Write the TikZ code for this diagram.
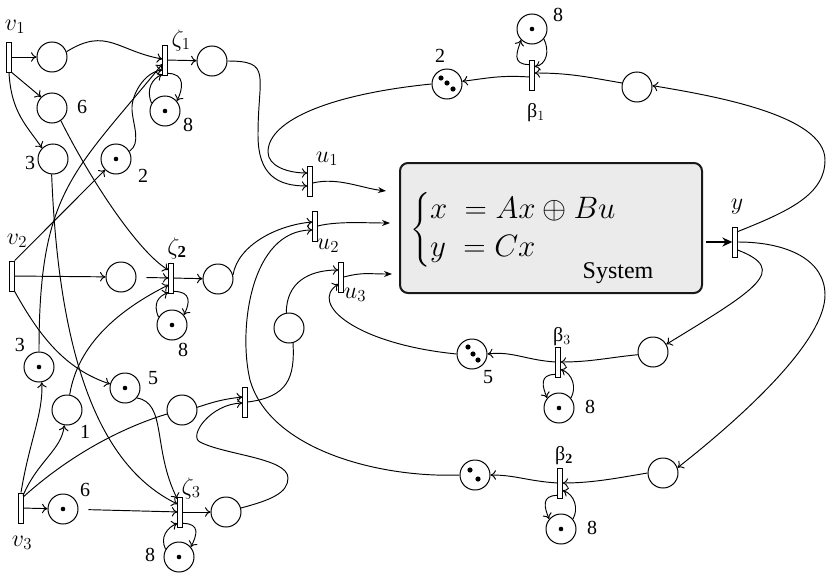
\RequirePackage{fix-cm}
\documentclass[tikz,border=0pt]{standalone}
\usepackage{amsmath}
\usepackage{fontspec}
\setmainfont{Liberation Serif}
\usetikzlibrary{arrows.meta,calc}
\begin{document}
\begin{tikzpicture}[x=1pt,y=-1pt,
  tr/.style={rectangle,draw,fill=white,minimum width=4.5pt,minimum height=30pt,inner sep=0pt,line width=0.8pt},
  pl/.style={circle,draw,minimum size=30pt,inner sep=0pt,line width=1pt},
  lab/.style={inner sep=0pt,font=\fontsize{20}{24}\selectfont},
  mlab/.style={inner sep=0pt,font=\fontsize{24}{28}\selectfont},
  arr/.style={-{To[length=5.5pt,width=9.5pt]},line width=0.95pt},
  ln/.style={line width=0.95pt},
  mid/.style={-{Stealth[length=8pt,width=6pt]},line width=0.95pt},
  big/.style={-{Stealth[length=10pt,width=9pt]},line width=2pt},
]
\useasboundingbox (0,0) rectangle (828,573);

% system box
\node[draw=black!90,line width=2pt,fill=black!8,rounded corners=8pt,minimum width=302pt,minimum height=130pt,inner sep=0pt] (sys) at (551,228) {};
\node[inner sep=0pt,anchor=west,font=\fontsize{31}{32}\selectfont] (eq) at (410,230) {$\begin{cases} x \;= Ax\oplus Bu\\ y \;= Cx\end{cases}$};
\node[inner sep=0pt,font=\fontsize{24}{28}\selectfont] (sysl) at (618,273) {System};

% transitions
\node[tr] (v1) at (9,57) {};
\node[tr] (v2) at (12,276) {};
\node[tr] (v3) at (21,508) {};
\node[tr] (z1) at (165,60) {};
\node[tr] (z2) at (171,278) {};
\node[tr] (z3) at (180,512) {};
\node[tr] (t4) at (245,402) {};
\node[tr] (u1) at (310,181) {};
\node[tr] (u2) at (315,226) {};
\node[tr] (u3) at (341,277) {};
\node[tr] (yT) at (735,242) {};
\node[tr] (b1) at (532,75) {};
\node[tr] (b3) at (558,362) {};
\node[tr] (b2) at (560,483) {};

% places
\node[pl] (p1) at (52,57) {};
\node[pl] (p2) at (52,108) {};
\node[pl] (p3) at (53,159) {};
\node[pl] (p4) at (116,159) {};
\node[pl] (s1) at (165,111) {};
\node[pl] (q1) at (212,61) {};
\node[pl] (p5) at (121,277) {};
\node[pl] (q2) at (218,279) {};
\node[pl] (s2) at (172,325) {};
\node[pl] (p6) at (39,367) {};
\node[pl] (p7) at (125,388) {};
\node[pl] (p8) at (67,410) {};
\node[pl] (p9) at (182,410) {};
\node[pl] (p10) at (63,509) {};
\node[pl] (q3) at (226,512) {};
\node[pl] (s3) at (179,557) {};
\node[pl] (r1) at (289,328) {};
\node[pl] (sb1) at (532,29) {};
\node[pl] (g1) at (447,84) {};
\node[pl] (e1) at (637,87) {};
\node[pl] (e3) at (653,352) {};
\node[pl] (g3) at (472,354) {};
\node[pl] (sb3) at (559,408) {};
\node[pl] (e2) at (663,473) {};
\node[pl] (g2) at (475,475) {};
\node[pl] (sb2) at (561,529) {};

% tokens
\foreach \p in {p4,s1,s2,p6,p7,p10,s3,sb1,sb3,sb2}{\fill (\p) circle[radius=2.3pt];}
\fill ($(g1)+(-6,-6)$) circle[radius=2.6pt];
\fill ($(g1)+(0,-1)$) circle[radius=2.6pt];
\fill ($(g1)+(6,5)$) circle[radius=2.6pt];
\fill ($(g3)+(-4,-7)$) circle[radius=2.6pt];
\fill ($(g3)+(1,0)$) circle[radius=2.6pt];
\fill ($(g3)+(6,6)$) circle[radius=2.6pt];
\fill ($(g2)+(-5,-5)$) circle[radius=2.6pt];
\fill ($(g2)+(3,4)$) circle[radius=2.6pt];

% labels
\node[mlab] (lv1) at (15,27) {$v_1$};
\node[mlab] (lv2) at (17,241) {$v_2$};
\node[mlab] (lv3) at (22,543) {$v_3$};
\node[mlab] (lz1) at (181,40) {$\zeta_1$};
\node[mlab] (lz2) at (177,248) {$\zeta_{\mathbf{2}}$};
\node[mlab] (lz3) at (191,488) {$\zeta_3$};
\node[mlab] (lu1) at (327,159) {$u_1$};
\node[mlab] (lu2) at (328,246) {$u_2$};
\node[mlab] (lu3) at (355,295) {$u_3$};
\node[mlab] (ly) at (737,207) {$y$};
\node[lab] (lb1) at (536,113) {β$_1$};
\node[lab] (lb3) at (562,337) {β$_3$};
\node[lab] (lb2) at (564,456) {β$_{\mathbf{2}}$};
\node[lab] (n6a) at (82,107) {6};
\node[lab] (n3a) at (30,163) {3};
\node[lab] (n2a) at (143,176) {2};
\node[lab] (n8a) at (188,125) {8};
\node[lab] (n8b) at (183,350) {8};
\node[lab] (n3b) at (20,345) {3};
\node[lab] (n5a) at (153,378) {5};
\node[lab] (n1) at (85,432) {1};
\node[lab] (n6b) at (85,490) {6};
\node[lab] (n8c) at (150,555) {8};
\node[lab] (n2b) at (440,56) {2};
\node[lab] (n8d) at (558,15) {8};
\node[lab] (n5b) at (488,377) {5};
\node[lab] (n8e) at (590,407) {8};
\node[lab] (n8f) at (592,528) {8};

% v1 block
\draw[arr] (v1) -- (p1);
\draw[arr] (v1.south east) -- (p2.135);
\draw[arr] (v1.south) .. controls +(2,40) and +(-15,-22) .. (p3.135);
\draw[arr] (p1.20) .. controls +(40,-25) and +(-45,-8) .. ($(z1.west)+(0,-1)$);
\draw[arr] (p6.north) .. controls +(0,-160) and +(-90,110) .. ($(z1.west)+(0,4)$);
\draw[arr] (p4.30) .. controls +(12,-8) and +(1,15) .. (132,110) .. controls +(-1,-15) and +(-18,2) .. ($(z1.west)+(0,10)$);
\draw[arr] (s1.150) .. controls +(-6,-14) and +(-10,4) .. ($(z1.south west)+(0,-1)$);
\draw[arr] ($(z1.south east)+(0,-2)$) .. controls +(18,0) and +(6,-12) .. (s1.40);
\draw[arr] (z1) -- (q1);

% v2 block
\draw[arr] (v2.north east) -- (p4.225);
\draw[arr] (v2) -- (p5);
\draw[arr] (v2.south east) .. controls +(25,45) and +(-45,-15) .. (p7.165);
\draw[arr] (p2.-55) .. controls +(30,60) and +(-30,-18) .. ($(z2.west)+(0,-8)$);
\draw[arr,shorten <=10pt] (p5) -- (z2);
\draw[arr] (p8.80) .. controls +(8,-50) and +(-50,25) .. ($(z2.west)+(0,7)$);
\draw[arr] (s2.150) .. controls +(-6,-14) and +(-10,4) .. ($(z2.south west)+(0,-1)$);
\draw[arr] ($(z2.south east)+(0,-2)$) .. controls +(18,0) and +(6,-12) .. (s2.40);
\draw[arr] (z2) -- (q2);

% v3 block
\draw[arr] (p3.265) .. controls +(8,206) and +(-68,-33) .. ($(z3.west)+(0,-8)$);
\draw[arr] (p7.-40) .. controls +(30,5) and +(-25,-50) .. ($(z3.west)+(0,-13)$);
\draw[arr] (v3.north) .. controls +(8,-50) and +(2,30) .. (p6.-80);
\draw[arr] ($(v3.north)+(2,3)$) .. controls +(15,-35) and +(-3,25) .. (p8.-100);
\draw[ln] ($(v3.north east)+(0,4)$) .. controls +(50,-45) and +(-40,12) .. (p9.195);
\draw[arr] (v3) -- (p10);
\draw[arr,shorten <=10pt] (p10) -- (z3);
\draw[arr] (s3.150) .. controls +(-6,-12) and +(-10,4) .. ($(z3.south west)+(0,-4)$);
\draw[arr] ($(z3.south east)+(0,-4)$) .. controls +(18,0) and +(6,-12) .. (s3.40);
\draw[arr] (z3) -- (q3);

% t4
\draw[arr] (p9.10) .. controls +(18,-6) and +(-18,2) .. ($(t4.west)+(0,-5)$);
\draw[arr] (q3.15) .. controls +(30,-8) and +(0,15) .. (288,478) .. controls +(0,-20) and +(25,13) .. (200,442) .. controls +(-12,-6) and +(-32,1) .. ($(t4.west)+(0,1)$);
\draw[ln] (t4.east) .. controls +(40,-5) and +(2,35) .. (r1.-75);

% inputs of u
\draw[arr] (q1.east) .. controls +(45,0) and +(0,-60) .. (258,135) .. controls +(0,40) and +(-30,0) .. ($(u1.west)+(0,5)$);
\draw[arr] (g1.west) .. controls +(-100,10) and +(0,-32) .. (268,152) .. controls +(0,14) and +(-20,0) .. ($(u1.west)+(0,-8)$);
\draw[arr] (q2.15) .. controls +(5,-30) and +(-35,3) .. ($(u2.west)+(0,-4)$);
\draw[arr] (g2.west) .. controls +(-80,3) and +(20,70) .. (250,380) .. controls +(-12,-50) and +(-62,0) .. ($(u2.west)+(0,4)$);
\draw[arr] (r1.100) .. controls +(0,-30) and +(-30,0) .. ($(u3.west)+(0,-7)$);
\draw[arr] (g3.west) .. controls +(-100,-10) and +(-30,20) .. ($(u3.west)+(0,7)$);

% u -> system
\coordinate (a1) at (386,191);
\coordinate (a2) at (390,223);
\coordinate (a3) at (392,274);
\draw[mid] ($(u1.east)+(0,2)$) .. controls +(25,-6) and +(-25,-3) .. (a1);
\draw[mid] (u2.east) .. controls +(20,-5) and +(-25,0) .. (a2);
\draw[mid] (u3.east) .. controls +(20,-5) and +(-25,0) .. (a3);
\coordinate (ys) at (706,242);
\draw[big] (ys) -- (yT.west);

% y outputs
\draw[arr] ($(yT.north east)+(0,5)$) .. controls +(50,-20) and +(0,35) .. (825,160) .. controls +(0,-45) and +(60,10) .. (e1.5);
\draw[arr] ($(yT.east)+(0,8)$) .. controls +(52,20) and +(90,-55) .. (e3.30);
\draw[arr] (yT.east) .. controls +(50,0) and +(0,-35) .. (825,295) .. controls +(0,45) and +(70,-55) .. (e2.20);

% beta 1
\draw[arr] (e1.165) .. controls +(-35,-6) and +(35,0) .. ($(b1.east)+(0,-2)$);
\draw[arr] ($(b1.west)+(0,2)$) .. controls +(-30,-2) and +(25,-3) .. (g1.10);
\draw[arr] ($(b1.north west)+(0,5)$) .. controls +(-18,0) and +(-4,12) .. (sb1.225);
\draw[arr] (sb1.-40) .. controls +(6,12) and +(12,-2) .. ($(b1.north east)+(0,7)$);

% beta 3
\draw[arr] (e3.190) .. controls +(-30,3) and +(30,0) .. (b3.east);
\draw[arr] (b3.west) .. controls +(-30,-2) and +(25,-3) .. (g3.0);
\draw[arr] ($(b3.south west)+(0,-3)$) .. controls +(-16,0) and +(-5,-12) .. (sb3.140);
\draw[arr] (sb3.40) .. controls +(6,-10) and +(12,4) .. ($(b3.south east)+(0,-8)$);

% beta 2
\draw[arr] (e2.west) .. controls +(-30,5) and +(30,0) .. (b2.east);
\draw[arr] (b2.west) .. controls +(-30,-2) and +(25,0) .. (g2.east);
\draw[arr] ($(b2.south west)+(0,-3)$) .. controls +(-16,0) and +(-5,-12) .. (sb2.140);
\draw[arr] (sb2.40) .. controls +(6,-10) and +(12,4) .. ($(b2.south east)+(0,-8)$);
\end{tikzpicture}
\end{document}
